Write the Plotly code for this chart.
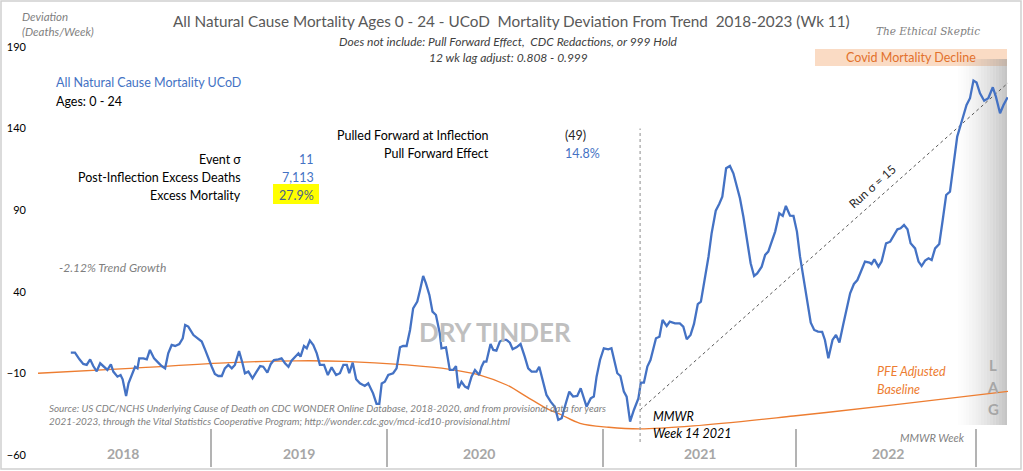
import plotly.graph_objects as go

# ---------------- data ----------------
weeks = [0.8, 2.0, 3.3, 4.4, 5.4, 6.4, 7.3, 8.3, 9.3, 10.4, 11.4, 12.4, 13.1, 14.3, 15.2, 15.8, 16.8, 17.5, 18.4, 19.4,
         20.1, 20.6, 21.8, 22.8, 23.7, 24.9, 26.1, 27.1, 28.1, 29.0, 30.0, 31.0, 32.2, 33.2, 33.9, 34.8, 36.3, 37.7, 38.7, 39.7,
         40.6, 41.6, 42.5, 43.5, 44.5, 45.4, 46.4, 47.4, 48.3, 49.5, 50.5, 51.2, 52.2, 53.4, 54.4, 55.6, 56.5, 57.7, 58.7, 59.6,
         60.9, 61.8, 62.8, 63.8, 64.7, 65.7, 66.7, 67.3, 68.3, 69.1, 70.0, 71.0, 72.0, 72.9, 74.1, 75.2, 76.3, 77.6, 78.7, 79.7,
         80.7, 81.4, 82.4, 83.4, 84.5,
         85.9, 86.9, 88.3, 89.3, 90.1, 90.8, 91.7, 92.7, 94.1, 95.1, 96.1, 97.0, 98.0, 99.0, 99.9, 101.1, 101.9, 102.8, 103.6,
         104.6, 105.5, 106.5, 107.6, 108.1, 109.4, 110.5, 111.5, 112.3, 113.0, 113.9, 114.9, 115.8, 116.8, 117.8, 119.0, 119.7,
         120.4, 121.1, 122.3, 123.1, 124.0, 125.0, 126.0, 126.9, 127.9, 128.7, 129.8, 131.0, 132.2, 133.2, 134.2, 135.6, 136.4,
         137.6, 138.5, 139.7, 140.9, 141.9, 142.9, 144.1, 145.1, 146.2, 147.4, 148.4, 149.1, 150.1, 151.3, 152.2, 153.0, 154.0,
         155.1, 156.4, 157.3, 158.3, 159.0, 159.9, 160.9, 161.7,
         162.7, 163.8, 165.1, 165.8, 166.7, 167.7, 168.6, 170.2, 171.2, 172.1, 173.3, 174.2, 175.7, 177.1, 178.1, 179.1, 180.2,
         181.2, 182.3, 183.2, 184.4, 185.4, 186.3, 187.5, 188.5, 189.4, 190.5, 191.6, 192.6, 193.6, 194.5, 195.5, 196.5, 197.6,
         198.6, 199.5, 200.8, 201.8, 202.7, 203.7, 204.7, 205.9, 206.9, 207.8, 209.0, 210.0, 211.0, 211.9, 213.1, 214.0, 215.0,
         216.0, 217.1, 218.3, 219.1, 220.1, 221.3, 222.3, 223.3, 224.4, 225.4, 226.4, 227.5, 228.5, 229.5, 230.7, 232.0, 232.6,
         233.4, 234.6, 235.5, 236.8, 238.0, 238.9, 240.1, 241.0, 242.0, 243.0, 243.9, 245.2, 246.2, 247.1, 248.1, 249.1, 250.0,
         251.0, 252.2, 253.2, 254.2, 255.3, 256.1, 256.8, 257.4, 258.4, 259.4, 260.1, 261.1, 262.1, 263.0, 264.0, 265.2, 266.4,
         267.7, 268.6, 269.8, 270.8, 272.0]
deviation = [2.7, 2.7, -1.4, -4.2, -4.8, -1.4, -5.5, -8.7, -3.8, -6.3, -7.9, -4.4, -8.9, -12, -11, -13.6, -23.8, -16.1, -11, -5.9,
             -6.9, -0.8, -0.8, -1.4, 4.4, -0.8, -3.4, -5.5, -6.9, 2.3, 7.4, 6.8, 8, 11.5, 19.7, 18.7, 13.5, 10.9, 9.5, 4.4,
             -0.8, -5.9, -10.4, -11.6, -11.6, -6.9, -4.8, -6.9, -4.8, 3.7, -3.8, -9.9, -8.9, -13, -9.5, -5.5, -5.9, -9.5, -4.2, -1.8,
             -1.4, -0.8, -3.8, -5.9, -2.2, 0.3, 2.3, 0.3, 6.8, 5.4, 10.1, 7.4, 2.3, -4.8, -4.8, -11, -6.3, -11, -9.9, -4.8,
             -4.8, -9.9, -3.4, -13.6, -16.1,
             -17.7, -16.1, -22.2, -28.7, -28.7, -16.1, -15.1, -11, -9.9, -6.9, 6, 6.8, 6.8, 16.6, 29.9, 34, 41.1, 49.7, 45.2,
             38.1, 27.8, 25.8, 14.6, 5.4, 6, -7.9, -7.9, -5.5, -19.1, -15.1, -18.1, -19.1, -12, -7.9, -11, -5.9,
             -2.8, -2.8, 8, 4.4, 3.9, 9.5, 10.5, 10.5, 8.8, 4.8, 6, 8, 0.3, -6.9, -8.9, -8.9, -5.9,
             -16.1, -23.2, -27.3, -30.4, -38.5, -37.5, -28.3, -21.2, -24.2, -23.8, -19.1, -24.2, -30.4, -25.3, -24.2, -12, -1.8,
             5.4, 4.8, 5.4, -2.8, -9.9, -11.6, -21.2, -24.2,
             -39.5, -32.4, -25.3, -15.7, -15.7, -5.8, -1.8, 11.5, 12.5, 22.7, 19.1, 21.7, 20.7, 20.7, 18.7, 10.9, 13.6,
             20.3, 32.5, 34, 48.3, 61.5, 75.8, 89.7, 93.8, 98.3, 115.7, 117.1, 112.6, 104.4, 97.3, 86, 72.8, 57.5,
             49.7, 51.3, 55.4, 62.6, 64.6, 71.3, 76.9, 88.1, 86.5, 92.6, 86.7, 86.5, 76.9, 61.5, 45.2, 32.9, 21.1,
             16.6, 15.6, 15.4, 10.5, -0.7, 10.5, 13.6, 8.9, 20, 30, 39.1, 44.8, 47.2, 52.3, 58.5, 57.9, 57.0,
             59.9, 55.4, 58.5, 69.7, 70.7, 73.8, 78.3, 78.9, 80.9, 78.3, 69.7, 66.6, 58.5, 55.8, 59.1, 60.5, 59.5,
             66.6, 69.3, 84, 99.3, 101.4, 114.6, 126.9, 135.1, 142.2, 149, 154.5, 158.6, 169.4, 168.2, 161.6, 157.1, 158.6,
             165.3, 159.6, 149.4, 154.5, 159.2]

baseline_weeks = [-8.7, 18, 47, 66, 80, 98, 110.5, 119.2, 127, 132.7, 138.5, 142.9, 148.2, 156.5, 165.6, 181, 210, 239, 272.1]
baseline_values = [-9.9, -6.9, -3.4, -2.3, -2.6, -4.8, -7.5, -11, -17.1, -24.2, -31.4, -35.5, -40.6, -43, -44, -42.2, -36.1, -29.3, -21]

run_weeks = [165.6, 272.1]
run_values = [-32.4, 168]

inflection_week = 165.6
inflection_span = [-52, 140]

y_ticks = [190, 140, 90, 40, -10, -60]
year_labels = ["2018", "2019", "2020", "2021", "2022"]

stat_labels = ["Event σ", "Post-Inflection Excess Deaths", "Excess Mortality"]
stat_values = ["11", "7,113", "27.9%"]
pf_labels = ["Pulled Forward at Inflection", "Pull Forward Effect"]
pf_values = ["(49)", "14.8%"]

# ---------------- layout helpers ----------------
W, H = 1023, 471
L, R, T, B = 38, 1008, 47, 455  # plot area in pixels


def px(x):
    return (x - L) / (R - L)


def py(y):
    return (B - y) / (B - T)


FONT = "Lato"
BLUE = "#4472C4"
ORANGE = "#ED7D31"
GRAY = "#7F7F7F"

fig = go.Figure()

fig.add_trace(go.Scatter(x=baseline_weeks, y=baseline_values, mode="lines",
                         line=dict(color=ORANGE, width=1.3, shape="spline", smoothing=1.0),
                         hoverinfo="skip"))
fig.add_trace(go.Scatter(x=run_weeks, y=run_values, mode="lines",
                         line=dict(color="#595959", width=1, dash="dot"), hoverinfo="skip"))
fig.add_trace(go.Scatter(x=weeks, y=deviation, mode="lines",
                         line=dict(color=BLUE, width=2.3)))

shapes = []
# outer border
shapes.append(dict(type="rect", xref="paper", yref="paper", x0=px(1), x1=px(1021), y0=py(469), y1=py(1),
                   line=dict(color="#D0D0D0", width=1.5), fillcolor="rgba(0,0,0,0)"))
# covid band
shapes.append(dict(type="rect", xref="paper", yref="paper", x0=px(815), x1=px(1007), y0=py(66), y1=py(49),
                   line=dict(width=0), fillcolor="#FADBC4", layer="below"))
# LAG gradient
n = 18
for i in range(n):
    x0 = 955 + i * (1007 - 955) / n
    x1 = 955 + (i + 1) * (1007 - 955) / n
    a = ((i + 1) / n) ** 1.6 * 0.55
    shapes.append(dict(type="rect", xref="paper", yref="paper", x0=px(x0), x1=px(x1), y0=py(425), y1=py(59),
                       line=dict(width=0), fillcolor=f"rgba(150,150,150,{a:.3f})", layer="below"))
# yellow highlight
shapes.append(dict(type="rect", xref="paper", yref="paper", x0=px(273), x1=px(319), y0=py(204), y1=py(184),
                   line=dict(width=0), fillcolor="#FFFF00", layer="below"))
# inflection line
shapes.append(dict(type="line", xref="x", yref="y", x0=inflection_week, x1=inflection_week,
                   y0=inflection_span[0], y1=inflection_span[1], line=dict(color="#A0A0A0", width=1.2, dash="dot")))
# year separators
for sx in [211, 387, 603, 796, 976]:
    shapes.append(dict(type="line", xref="paper", yref="paper", x0=px(sx), x1=px(sx), y0=py(467), y1=py(429),
                       line=dict(color="#9A9A9A", width=1.5)))

ann = []


def add(text, x, y, size, color, xanchor="left", angle=0, family=FONT):
    ann.append(dict(text=text, x=px(x), y=py(y), xref="paper", yref="paper", xanchor=xanchor, yanchor="middle",
                    showarrow=False, textangle=angle, font=dict(family=family, size=size, color=color)))


add("<i>Deviation</i>", 20, 16, 11.5, GRAY)
add("<i>(Deaths/Week)</i>", 20, 32, 11.5, GRAY)
add("All Natural Cause Mortality Ages 0 - 24 - UCoD  Mortality Deviation From Trend  2018-2023 (Wk 11)",
    511, 21, 15.3, "#595959", "center")
add("<i>Does not include: Pull Forward Effect,  CDC Redactions, or 999 Hold</i>", 508, 41, 12, "#404040", "center")
add("<i>12 wk lag adjust: 0.808 - 0.999</i>", 508, 57, 12, "#404040", "center")
add("<i>The Ethical Skeptic</i>", 928, 31, 10.5, "#808080", "center", family="DejaVu Serif")
add("Covid Mortality Decline", 911, 57, 12.5, "#E2712C", "center")
add("All Natural Cause Mortality UCoD", 54, 82, 12.5, BLUE)
add("Ages: 0 - 24", 54, 102, 12.5, "#000000")
for lab, val, yy, col in zip(stat_labels, stat_values, [159, 177, 195], [BLUE, BLUE, "#4A5F8A"]):
    add(lab, 243, yy, 12.5, "#000000", "right")
    add(val, 316, yy, 12.5, col, "right")
for lab, val, yy, col in zip(pf_labels, pf_values, [135, 153], ["#262626", BLUE]):
    add(lab, 491, yy, 12.5, "#000000", "right")
    add(val, 563, yy, 12.5, col, "left")
add("<i>-2.12% Trend Growth</i>", 57, 267, 12, GRAY)
add("<b>DRY TINDER</b>", 495, 332, 26, "#BFBFBF", "center")
add("Run σ = 15", 872, 186, 12, "#262626", "center", angle=-41.6)
add("<i>MMWR</i>", 651, 416, 12.5, "#000000")
add("<i>Week 14 2021</i>", 651, 433, 12.5, "#000000")
add("<i>PFE Adjusted</i>", 875, 371, 12.5, ORANGE)
add("<i>Baseline</i>", 875, 389, 12.5, ORANGE)
for ch, yy in zip("LAG", [365, 387, 409]):
    add(f"<b>{ch}</b>", 993, yy, 15, "#A6A6A6", "center")
add("<i>MMWR Week</i>", 932, 437, 11, GRAY, "center")
add("<i>Source: US CDC/NCHS Underlying Cause of Death on CDC WONDER Online Database, 2018-2020, and from provisional data for years</i>",
    47, 408, 9.9, GRAY)
add("<i>2021-2023, through the Vital Statistics Cooperative Program; http://wonder.cdc.gov/mcd-icd10-provisional.html</i>",
    47, 421, 9.9, GRAY)
for lab, xx in zip(year_labels, [123, 299, 479, 700, 888]):
    add(f"<b>{lab}</b>", xx, 453, 14, "#A6A6A6", "center")

fig.update_layout(
    width=W, height=H, autosize=False,
    margin=dict(l=L, r=W - R, t=T, b=H - B, pad=0),
    paper_bgcolor="white", plot_bgcolor="white",
    showlegend=False,
    xaxis=dict(range=[-8.7, 272.1], visible=False, fixedrange=True, automargin=False),
    yaxis=dict(range=[-60, 190], tickvals=y_ticks, showgrid=False, zeroline=False, showline=False, ticks="",
               automargin=False, ticklabelstandoff=11,
               tickfont=dict(family=FONT, size=11, color="#000000"), fixedrange=True),
    shapes=shapes, annotations=ann,
    font=dict(family=FONT),
)

fig.write_html("out.html", config={"displayModeBar": False},
               post_script="document.body.style.margin='0';document.body.style.overflow='hidden';")
